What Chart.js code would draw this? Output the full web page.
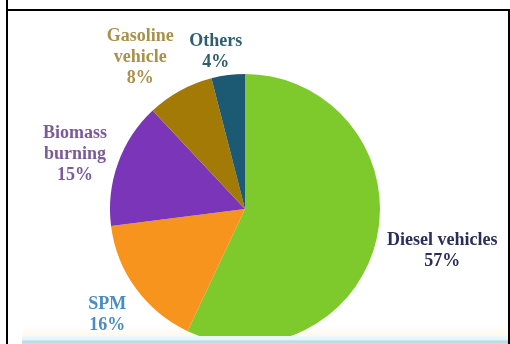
<!DOCTYPE html>
<html>
<head>
<meta charset="utf-8">
<script src="https://cdn.jsdelivr.net/npm/chart.js@4.4.1/dist/chart.umd.min.js"></script>
<style>
  html, body { margin: 0; padding: 0; background: #ffffff; }
  #frame { position: relative; width: 510px; height: 344px; overflow: hidden; }
  #chart-sources { position: absolute; left: 0; top: 0; filter: blur(0.4px); }
  .edge-left { position: absolute; left: 6px; top: 0; width: 2px; height: 344px; background: #000; }
  .edge-top { position: absolute; left: 6px; top: 9px; width: 504px; height: 2px; background: #000; }
  .edge-right { position: absolute; left: 508px; top: 9px; width: 2px; height: 335px; background: #000; }
  .haze { position: absolute; left: 22px; top: 326px; width: 486px; height: 11px;
          background: linear-gradient(#ffffff, #fdf8ec); }
  .band { position: absolute; left: 22px; top: 336px; width: 486px; height: 8px;
          background: linear-gradient(#edf9fc 0px, #e3f5f9 4px, #b7d8e5 5px, #c8e3ed 8px); }
</style>
</head>
<body>
<div id="frame">
  <div class="haze"></div>
  <canvas id="chart-sources" width="510" height="344"></canvas>
  <div class="band"></div>
  <div class="edge-left"></div>
  <div class="edge-top"></div>
  <div class="edge-right"></div>
</div>
<script>
// Kaynak payları (%), saat yönünde tepeden başlayarak
const sourceNames = [['Diesel vehicles'], ['SPM'], ['Biomass', 'burning'], ['Gasoline', 'vehicle'], ['Others']];
const sourceShares = [57, 16, 15, 8, 4];
const sliceColors = ['#7ec92c', '#f7941e', '#7b35b8', '#a47a06', '#1c5a74'];
const labelColors = ['#2b2e57', '#4a8cc2', '#7b5a9c', '#a8914c', '#2f5e6e'];
// Etiket yerleşimi: yarıçap katı ve küçük kaydırmalar
const labelLayout = [
  { dist: 1.49, dx: 1, dy: -2 },
  { dist: 1.28, dx: 2, dy: 4 },
  { dist: 1.33, dx: -1, dy: 6 },
  { dist: 1.38, dx: -15, dy: 12 },
  { dist: 1.20, dx: -9, dy: 4 }
];

// Dilim etiketlerini yay ortasına göre çiz
const sliceLabels = {
  id: 'sliceLabels',
  afterDatasetsDraw(chart) {
    const ctx = chart.ctx;
    const arcs = chart.getDatasetMeta(0).data;
    ctx.save();
    ctx.font = 'bold 18px "Liberation Serif", "DejaVu Serif", serif';
    ctx.textAlign = 'center';
    ctx.textBaseline = 'middle';
    arcs.forEach((arc, i) => {
      const p = arc.getProps(['x', 'y', 'startAngle', 'endAngle', 'outerRadius'], true);
      const mid = (p.startAngle + p.endAngle) / 2;
      const lay = labelLayout[i];
      const cx = p.x + Math.cos(mid) * p.outerRadius * lay.dist + lay.dx;
      const cy = p.y + Math.sin(mid) * p.outerRadius * lay.dist + lay.dy;
      const lines = sourceNames[i].concat([sourceShares[i] + '%']);
      const lh = 21;
      const top = cy - (lines.length - 1) * lh / 2;
      ctx.fillStyle = labelColors[i];
      lines.forEach((t, k) => ctx.fillText(t, cx, top + k * lh));
    });
    ctx.restore();
  }
};

new Chart(document.getElementById('chart-sources'), {
  type: 'pie',
  data: {
    labels: sourceNames.map(n => n.join(' ')),
    datasets: [{
      data: sourceShares,
      backgroundColor: sliceColors,
      borderWidth: 0
    }]
  },
  options: {
    responsive: false,
    animation: false,
    layout: { padding: { left: 110, right: 130, top: 74, bottom: 0 } },
    plugins: { legend: { display: false }, tooltip: { enabled: false } }
  },
  plugins: [sliceLabels]
});
</script>
</body>
</html>
